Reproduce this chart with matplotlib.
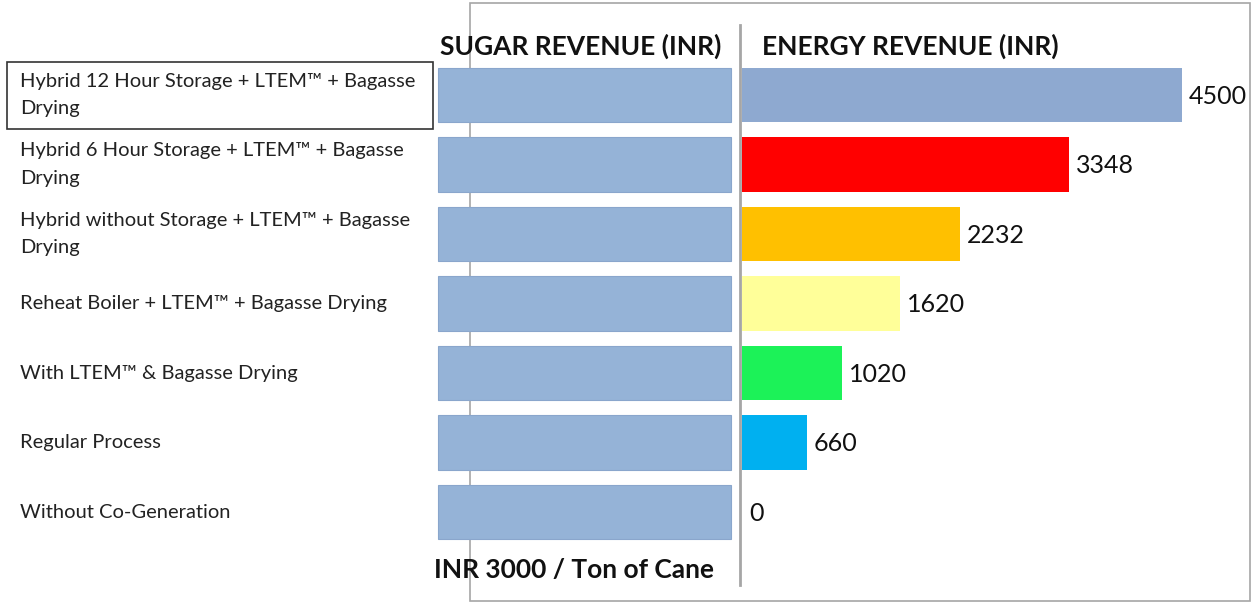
import matplotlib.pyplot as plt
from matplotlib.patches import Rectangle

# data, top row first
categories = [
    "Hybrid 12 Hour Storage + LTEM\u2122 + Bagasse\nDrying",
    "Hybrid 6 Hour Storage + LTEM\u2122 + Bagasse\nDrying",
    "Hybrid without Storage + LTEM\u2122 + Bagasse\nDrying",
    "Reheat Boiler + LTEM\u2122 + Bagasse Drying",
    "With LTEM\u2122 & Bagasse Drying",
    "Regular Process",
    "Without Co-Generation",
]
sugar_revenue = [3000, 3000, 3000, 3000, 3000, 3000, 3000]
energy_revenue = [4500, 3348, 2232, 1620, 1020, 660, 0]
energy_colors = ["#8EA9D0", "#FF0000", "#FFC000", "#FFFF99", "#1CF258", "#00B0F0", "#00B0F0"]
sugar_color = "#95B3D7"

plt.rcParams['font.family'] = ['Lato', 'DejaVu Sans']

W, H = 1252, 604
fig = plt.figure(figsize=(W / 100, H / 100), dpi=100)
ax = fig.add_axes([0, 0, 1, 1])
ax.axis('off')

px = 0.0978          # pixels per INR unit
x0 = 742             # pixel column of energy zero
row0, row_step = 95, 69.5
ax.set_xlim(-x0 / px, (W - x0) / px)
ax.set_ylim((H - row0) / row_step, -row0 / row_step)

# panel frame, under the bars
ax.add_patch(Rectangle((470 / W, 1 - 601 / H), 780 / W, 598 / H,
                       transform=fig.transFigure, fill=False,
                       edgecolor="#A6A6A6", lw=1.2, zorder=1))

rows = list(range(len(categories)))
gap = 110
ax.barh(rows, sugar_revenue, left=[-gap - v for v in sugar_revenue], height=0.79,
        color=sugar_color, edgecolor="#8AA6CC", lw=0.8, zorder=2)
ax.barh(rows, energy_revenue, left=0, height=0.79, color=energy_colors, zorder=2)

# divider
ax.plot([-20, -20], [(25 - row0) / row_step, (585 - row0) / row_step],
        color="#A6A6A6", lw=2, zorder=3)

for i, v in enumerate(energy_revenue):
    ax.text(v + 70, i + 0.02, str(v), va='center', ha='left',
            fontsize=18, color="#111111")

for i, c in enumerate(categories):
    ax.text(-(x0 - 20) / px, i, c, va='center', ha='left', fontsize=14.5,
            color="#222222", linespacing=1.75)

# box round first label
ax.add_patch(Rectangle((7 / W, 1 - 129 / H), 426 / W, 67 / H,
                       transform=fig.transFigure, fill=False,
                       edgecolor="#333333", lw=1.2, zorder=3))

fig.text(581 / W, 1 - 46 / H, "SUGAR REVENUE (INR)", ha='center', va='center',
         fontsize=19, fontweight='bold', color="#111111")
fig.text(762 / W, 1 - 46 / H, "ENERGY REVENUE (INR)", ha='left', va='center',
         fontsize=19, fontweight='bold', color="#111111")
fig.text(574 / W, 1 - 570 / H, "INR 3000 / Ton of Cane", ha='center', va='center',
         fontsize=19, fontweight='bold', color="#111111")

fig.savefig("out.png", dpi=100)
